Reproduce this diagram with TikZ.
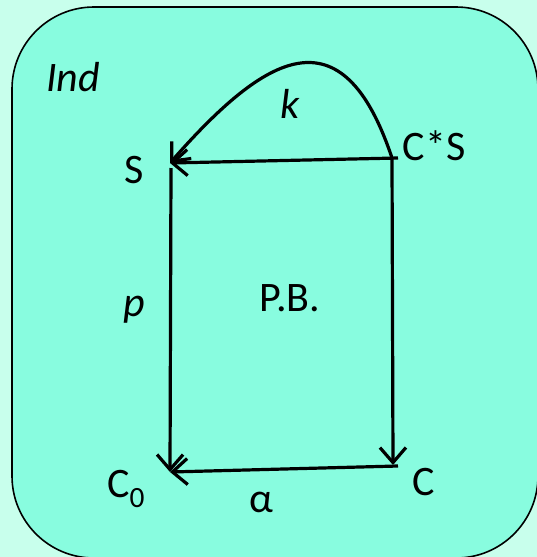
\documentclass[tikz,border=0pt]{standalone}
\usepackage{fontspec}
\setmainfont{Carlito}
\usetikzlibrary{arrows.meta}
\definecolor{outerbg}{RGB}{200,255,236}
\definecolor{boxfill}{RGB}{136,252,223}
\tikzset{
  lbl/.style={inner sep=0pt, font=\fontsize{42}{48}\selectfont},
  ilbl/.style={lbl, font=\fontsize{42}{48}\selectfont\itshape},
  arr/.style={line width=3.2pt, -{Straight Barb[length=15pt,width=26pt,line width=3.2pt]}},
  plain/.style={line width=3.2pt}
}
\begin{document}
\begin{tikzpicture}[x=1pt,y=-1pt]
\fill[outerbg] (0,0) rectangle (537,557);
\useasboundingbox (0,0) rectangle (537,557);
\draw[fill=boxfill, line width=1.6pt, rounded corners=82pt] (12,7) rectangle (538,558);

\node[ilbl] (ind) at (73,77) {Ind};
\node[lbl] (S) at (134,170) {S};
\node[lbl] (CS) at (434,146) {C*S};
\node[lbl, anchor=base west] (C0) at (107,497) {C\textsubscript{0}};
\node[lbl] (C) at (424,482) {C};
\node[lbl] (alpha) at (261,502) {α};
\node[ilbl] (k) at (290,104) {k};
\node[ilbl] (p) at (134,310) {p};
\node[lbl] (PB) at (290,298) {P.B.};

\coordinate (s) at (170,163);
\coordinate (sd) at (171,168);
\coordinate (cs) at (392,158);
\coordinate (cse) at (398,158);
\coordinate (c0) at (170,472);
\coordinate (c) at (393,465);
\coordinate (ce) at (398,466);

\draw[arr] (cse) -- (s);
\draw[arr] (sd) -- (c0);
\draw[arr] (cs) -- (c);
\draw[arr] (ce) -- (c0);
\draw[arr] (cs) .. controls (342,8) and (265,55) .. (s);
\end{tikzpicture}
\end{document}
